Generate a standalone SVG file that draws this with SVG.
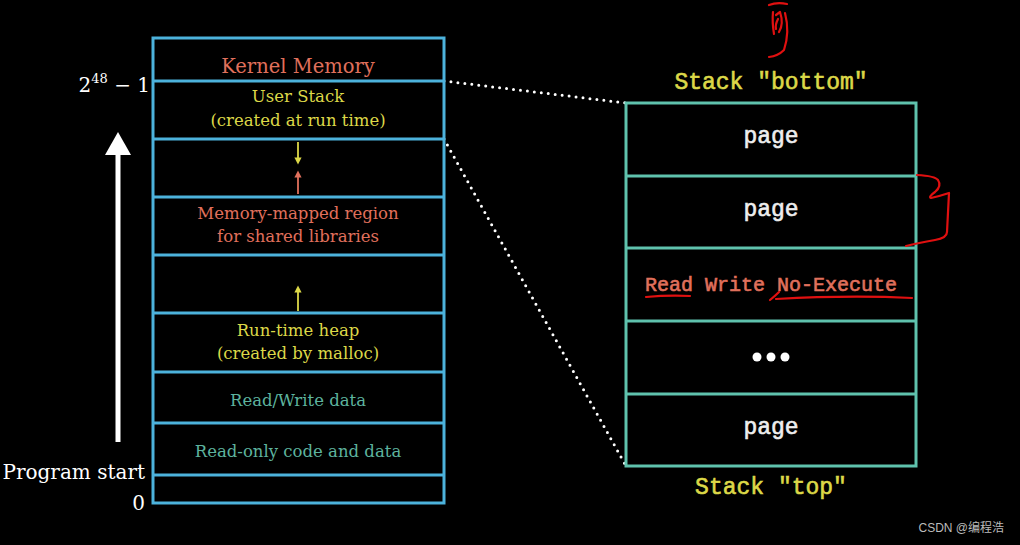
<svg xmlns="http://www.w3.org/2000/svg" width="1020" height="545" viewBox="0 0 1020 545">
<style>
.lbox{fill:none;stroke:#4cb2dc;stroke-width:3}
.lline{stroke:#4cb2dc;stroke-width:3}
.rbox{fill:none;stroke:#5fc2ad;stroke-width:3}
.rline{stroke:#5fc2ad;stroke-width:3}
.serif{font-family:"DejaVu Serif","Liberation Serif",serif;text-anchor:middle}
.mono{font-family:"Liberation Mono","DejaVu Sans Mono",monospace;text-anchor:middle;stroke-width:0.6}
.red{fill:#e0705c}
.yel{fill:#dcd848}
.teal{fill:#5db39e}
.dot{stroke:#ffffff;stroke-width:3;stroke-linecap:round;stroke-dasharray:0 7;fill:none}
.ink{fill:none;stroke:#e01010;stroke-width:2.2;stroke-linecap:round;stroke-linejoin:round}
</style>
<defs>
<marker id="ay" viewBox="0 0 10 10" refX="5" refY="5" markerWidth="4" markerHeight="4" orient="auto"><path d="M0,0 L10,5 L0,10 z" fill="#dcd848"/></marker>
<marker id="ar" viewBox="0 0 10 10" refX="5" refY="5" markerWidth="4" markerHeight="4" orient="auto"><path d="M0,0 L10,5 L0,10 z" fill="#e0705c"/></marker>
</defs>
<rect width="1020" height="545" fill="#000"/>

<g id="connectors">
<path class="dot" d="M444,81 L626,103"/>
<path class="dot" d="M444,139 L626,466"/>
<line x1="298" y1="142" x2="298" y2="161" stroke="#dcd848" stroke-width="1.8" marker-end="url(#ay)"/>
<line x1="298" y1="194" x2="298" y2="174" stroke="#e0705c" stroke-width="1.8" marker-end="url(#ar)"/>
<line x1="298" y1="311" x2="298" y2="289" stroke="#dcd848" stroke-width="1.8" marker-end="url(#ay)"/>
<g id="address-arrow">
<rect x="115.5" y="152" width="5" height="290" fill="#fff"/>
<path d="M105,155 L118,132 L131,155 z" fill="#fff"/>
</g>
</g>

<g id="memory-layout">
<rect class="lbox" x="153" y="38" width="291" height="465"/>
<line class="lline" x1="153" y1="81" x2="444" y2="81"/>
<line class="lline" x1="153" y1="139" x2="444" y2="139"/>
<line class="lline" x1="153" y1="197" x2="444" y2="197"/>
<line class="lline" x1="153" y1="255" x2="444" y2="255"/>
<line class="lline" x1="153" y1="313" x2="444" y2="313"/>
<line class="lline" x1="153" y1="372" x2="444" y2="372"/>
<line class="lline" x1="153" y1="423" x2="444" y2="423"/>
<line class="lline" x1="153" y1="475" x2="444" y2="475"/>
</g>
<g id="kernel"><text class="serif red" x="298" y="73" font-size="19.5">Kernel Memory</text></g>
<g id="user-stack"><text class="serif yel" x="298" y="102" font-size="16.5">User Stack</text><text class="serif yel" x="298" y="126" font-size="16.5">(created at run time)</text></g>
<g id="mmap"><text class="serif red" x="298" y="219" font-size="16.5">Memory-mapped region</text><text class="serif red" x="298" y="242" font-size="16.5">for shared libraries</text></g>
<g id="heap"><text class="serif yel" x="298" y="336" font-size="16.5">Run-time heap</text><text class="serif yel" x="298" y="359" font-size="16.5">(created by malloc)</text></g>
<g id="rw-data"><text class="serif teal" x="298" y="406" font-size="16.5">Read/Write data</text></g>
<g id="ro-code"><text class="serif teal" x="298" y="457" font-size="16.5">Read-only code and data</text></g>

<g id="addr-labels">
<text class="serif" x="150" y="92" font-size="20" fill="#fff" style="text-anchor:end">2<tspan dy="-9" font-size="13">48</tspan><tspan dy="9"> − 1</tspan></text>
<text class="serif" x="145" y="479" font-size="20" fill="#fff" style="text-anchor:end">Program start</text>
<text class="serif" x="145" y="510" font-size="20" fill="#fff" style="text-anchor:end">0</text>
</g>

<g id="stack-pages">
<rect class="rbox" x="626" y="103" width="290" height="363"/>
<line class="rline" x1="626" y1="176" x2="916" y2="176"/>
<line class="rline" x1="626" y1="248" x2="916" y2="248"/>
<line class="rline" x1="626" y1="321" x2="916" y2="321"/>
<line class="rline" x1="626" y1="394" x2="916" y2="394"/>
</g>
<g id="page1"><text class="mono" x="771" y="143" font-size="23" fill="#eeeeee" stroke="#eeeeee">page</text></g>
<g id="page2"><text class="mono" x="771" y="216" font-size="23" fill="#eeeeee" stroke="#eeeeee">page</text></g>
<g id="rwnx"><text class="mono red" x="771" y="291" font-size="20" stroke="#e0705c">Read Write No-Execute</text></g>
<g id="ellipsis"><circle cx="757" cy="357" r="4.5" fill="#fff"/><circle cx="771" cy="357" r="4.5" fill="#fff"/><circle cx="785" cy="357" r="4.5" fill="#fff"/></g>
<g id="page3"><text class="mono" x="771" y="434" font-size="23" fill="#eeeeee" stroke="#eeeeee">page</text></g>
<g id="stack-bottom"><text class="mono yel" x="771" y="89" font-size="23" stroke="#dcd848">Stack "bottom"</text></g>
<g id="stack-top"><text class="mono yel" x="771" y="494" font-size="23" stroke="#dcd848">Stack "top"</text></g>

<g id="annotations">
<path class="ink" d="M769,5 Q777,2 787,4"/>
<path class="ink" d="M773,12 Q772,22 774,34"/>
<path class="ink" d="M776,15 L780,12 Q784,24 779,32"/>
<path class="ink" d="M778,19 Q775,25 776,29"/>
<path class="ink" d="M785,13 Q790,32 784,50 Q778,56 769,57"/>
<path class="ink" d="M917,175 Q935,176 938,180 Q942,186 935,192 Q928,197 931,198 Q940,196 949,193 L947,232 Q947,238 935,240 Q918,243 906,246"/>
<path class="ink" d="M646,297 Q668,295 690,296"/>
<path class="ink" d="M770,300 Q775,296 779,292 M776,299 Q850,295 912,298"/>
</g>
<text x="1004" y="532" font-family="'Liberation Sans','Noto Sans CJK SC',sans-serif" font-size="12" fill="#bbbbbb" text-anchor="end">CSDN @编程浩</text>
</svg>
